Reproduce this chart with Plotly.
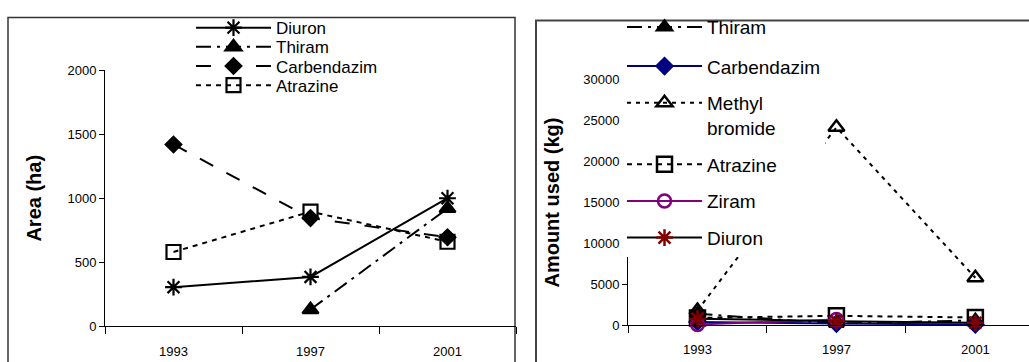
import plotly.graph_objects as go

W, H = 1029, 362

years = ["1993", "1997", "2001"]

# Left panel: Area (ha)
area_diuron = [305, 385, 1000]
area_thiram = [None, 130, 920]
area_carbendazim = [1420, 845, 695]
area_atrazine = [580, 895, 660]

# Right panel: Amount used (kg)
kg_thiram = [1400, 200, 600]
kg_carbendazim = [400, 200, 100]
kg_methyl_bromide = [1800, 24200, 5800]
kg_atrazine = [900, 1150, 950]
kg_ziram = [100, 700, None]
kg_diuron = [800, 500, 300]

left_y_ticks = [0, 500, 1000, 1500, 2000]
right_y_ticks = [0, 5000, 10000, 15000, 20000, 25000, 30000]

FONT = "Liberation Sans, Arial, sans-serif"


def px(x):
    return x / W


def py(y):
    return 1 - y / H


fig = go.Figure()

# ---- left panel traces ----
left_specs = [
    ("Diuron", area_diuron, "solid", "asterisk-open", 14, "black", "legend"),
    ("Thiram", area_thiram, "longdashdot", "triangle-up", 14, "black", "legend2"),
    ("Carbendazim", area_carbendazim, "longdash", "diamond", 12, "black", "legend3"),
    ("Atrazine", area_atrazine, "5px,5px", "square-open", 14, "black", "legend4"),
]
for name, vals, dash, sym, size, col, leg in left_specs:
    fig.add_trace(go.Scatter(
        x=years, y=vals, name=name, mode="lines+markers",
        line=dict(color=col, width=2, dash=dash),
        marker=dict(symbol=sym, size=size, color=col,
                    line=dict(color=col, width=2.2)),
        xaxis="x", yaxis="y", legend=leg, cliponaxis=False,
    ))

# ---- right panel traces ----
right_specs = [
    ("Thiram", kg_thiram, "black", "longdashdot", "triangle-up", 13, "black", "legend5"),
    ("Carbendazim", kg_carbendazim, "#000080", "solid", "diamond", 12, "#000080", "legend6"),
    ("Methyl<br>bromide", kg_methyl_bromide, "black", "4px,5px", "triangle-up-open", 14, "black", "legend6"),
    ("Atrazine", kg_atrazine, "black", "5px,5px", "square-open", 15, "black", "legend6"),
    ("Ziram", kg_ziram, "#800080", "solid", "circle-open", 13, "#800080", "legend6"),
    ("Diuron", kg_diuron, "black", "solid", "asterisk-open", 14, "#800000", "legend6"),
]
for name, vals, lcol, dash, sym, size, mcol, leg in right_specs:
    fig.add_trace(go.Scatter(
        x=years, y=vals, name=name, mode="lines+markers",
        line=dict(color=lcol, width=2, dash=dash),
        marker=dict(symbol=sym, size=size, color=mcol,
                    line=dict(color=mcol, width=2.5)),
        xaxis="x2", yaxis="y2", legend=leg, legendgroup=name,
        cliponaxis=False,
    ))

axis_common = dict(showline=True, linecolor="black", linewidth=1,
                   showgrid=False, zeroline=False, ticks="outside",
                   tickcolor="black", tickfont=dict(family=FONT, size=13, color="black"))

left_leg_y = [22, 42, 62, 82]
legends = {}
for i, yy in enumerate(left_leg_y):
    key = "legend" if i == 0 else f"legend{i+1}"
    legends[key] = dict(
        x=px(191), y=py(yy), xanchor="left", yanchor="middle",
        bgcolor="rgba(0,0,0,0)", borderwidth=0, itemwidth=75,
        font=dict(family=FONT, size=17, color="black"),
    )
legends["legend5"] = dict(
    x=px(622), y=py(21), xanchor="left", yanchor="middle",
    bgcolor="rgba(0,0,0,0)", borderwidth=0, itemwidth=75,
    font=dict(family=FONT, size=19, color="black"),
)
legends["legend6"] = dict(
    x=px(622), y=py(42), xanchor="left", yanchor="top",
    bgcolor="white", borderwidth=0, tracegroupgap=9, valign="top",
    itemwidth=75,
    font=dict(family=FONT, size=19, color="black"),
)

fig.update_layout(
    width=W, height=H,
    margin=dict(l=0, r=0, t=0, b=0),
    paper_bgcolor="white", plot_bgcolor="white",
    font=dict(family=FONT, color="black"),
    showlegend=True,
    xaxis=dict(axis_common, domain=[px(105), px(516)], anchor="y",
               type="category", categoryorder="array", categoryarray=years,
               range=[-0.5, 2.5], tickson="boundaries", ticklen=7,
               ticklabelstandoff=13),
    yaxis=dict(axis_common, domain=[py(333), py(66)], anchor="x",
               range=[0, 2000], tickvals=left_y_ticks, ticklen=5,
               title=dict(text="<b>Area (ha)</b>", standoff=20,
                          font=dict(family=FONT, size=20, color="black"))),
    xaxis2=dict(axis_common, domain=[px(628), 1.0], anchor="y2",
                type="category", categoryorder="array", categoryarray=years,
                range=[-0.5, 2.386], tickson="boundaries", ticklen=7,
                ticklabelstandoff=12),
    yaxis2=dict(axis_common, domain=[py(332), py(76)], anchor="x2",
                range=[0, 30000], tickvals=right_y_ticks, tickformat="d",
                ticklen=5,
                title=dict(text="<b>Amount used (kg)</b>", standoff=18,
                           font=dict(family=FONT, size=20, color="black"))),
    shapes=[
        dict(type="rect", xref="paper", yref="paper",
             x0=px(8), x1=px(515), y0=-0.1, y1=py(11),
             line=dict(color="#333333", width=1.5), layer="below"),
        dict(type="rect", xref="paper", yref="paper",
             x0=px(536), x1=1.1, y0=-0.1, y1=py(14),
             line=dict(color="#444444", width=2), layer="below"),
    ],
    **legends,
)

fig.write_html("out.html")
